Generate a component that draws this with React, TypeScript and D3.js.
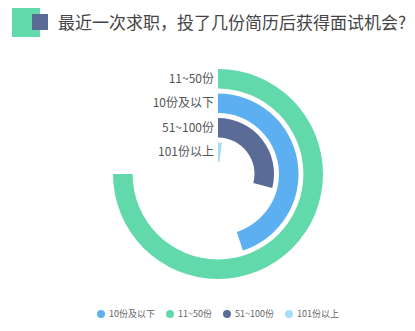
import React, { useEffect, useRef } from 'react';
import * as d3 from 'd3';

const categories = ['11~50份', '10份及以下', '51~100份', '101份以上'];
const values = [75, 45, 29, 2];
const legendOrder = ['10份及以下', '11~50份', '51~100份', '101份以上'];
const colors: Record<string, string> = {
  '10份及以下': '#5cb0f2',
  '11~50份': '#62d9aa',
  '51~100份': '#5a6c96',
  '101份以上': '#a5ddf7',
};
const title = '最近一次求职，投了几份简历后获得面试机会?';

const W = 415;
const H = 331;
const FONT = '"Noto Sans CJK SC", "Noto Sans", sans-serif';

const App = () => {
  const ref = useRef<SVGSVGElement>(null);

  useEffect(() => {
    const svg = d3.select(ref.current);
    svg.selectAll('*').remove();

    // title block
    svg.append('rect').attr('x', 12).attr('y', 8).attr('width', 28).attr('height', 29).attr('fill', '#62d9aa');
    svg.append('rect').attr('x', 32).attr('y', 14).attr('width', 16).attr('height', 16).attr('fill', '#5a6c96');
    svg
      .append('text')
      .attr('x', 58)
      .attr('y', 23)
      .attr('dy', '0.35em')
      .attr('font-family', FONT)
      .attr('font-size', 17)
      .attr('fill', '#444')
      .text(title);

    const cx = 218;
    const cy = 174;

    const radius = d3
      .scaleBand<string>()
      .domain([...categories].reverse())
      .range([12, 105])
      .paddingInner(0.2);

    const angle = d3.scaleLinear().domain([0, 100]).range([0, 2 * Math.PI]);

    const arc = d3
      .arc<any>()
      .innerRadius(d => radius(d.cat)!)
      .outerRadius(d => radius(d.cat)! + radius.bandwidth())
      .startAngle(0)
      .endAngle(d => angle(d.value));

    const data = categories.map((cat, i) => ({ cat, value: values[i] }));

    const g = svg.append('g').attr('transform', `translate(${cx},${cy})`);

    g.selectAll('path')
      .data(data)
      .join('path')
      .attr('d', arc)
      .attr('fill', d => colors[d.cat]);

    g.selectAll('text.lbl')
      .data(data)
      .join('text')
      .attr('class', 'lbl')
      .attr('x', -4)
      .attr('y', d => -(radius(d.cat)! + radius.bandwidth() / 2))
      .attr('dy', '0.35em')
      .attr('text-anchor', 'end')
      .attr('font-family', FONT)
      .attr('font-size', 12)
      .attr('fill', '#555')
      .text(d => d.cat);

    // legend
    const lg = svg.append('g').attr('transform', `translate(0,314)`);
    let x = 101;
    legendOrder.forEach(cat => {
      lg.append('circle').attr('cx', x).attr('cy', 0).attr('r', 4).attr('fill', colors[cat]);
      const t = lg
        .append('text')
        .attr('x', x + 8)
        .attr('dy', '0.35em')
        .attr('font-family', FONT)
        .attr('font-size', 9)
        .attr('fill', '#666')
        .text(cat);
      const w = (t.node() as SVGTextElement).getComputedTextLength();
      x += 8 + w + 15;
    });

    return () => {
      svg.selectAll('*').remove();
    };
  }, []);

  return (
    <svg
      ref={ref}
      width={W}
      height={H}
      style={{ position: 'absolute', left: 0, top: 0, background: '#fff' }}
    />
  );
};

export default App;
